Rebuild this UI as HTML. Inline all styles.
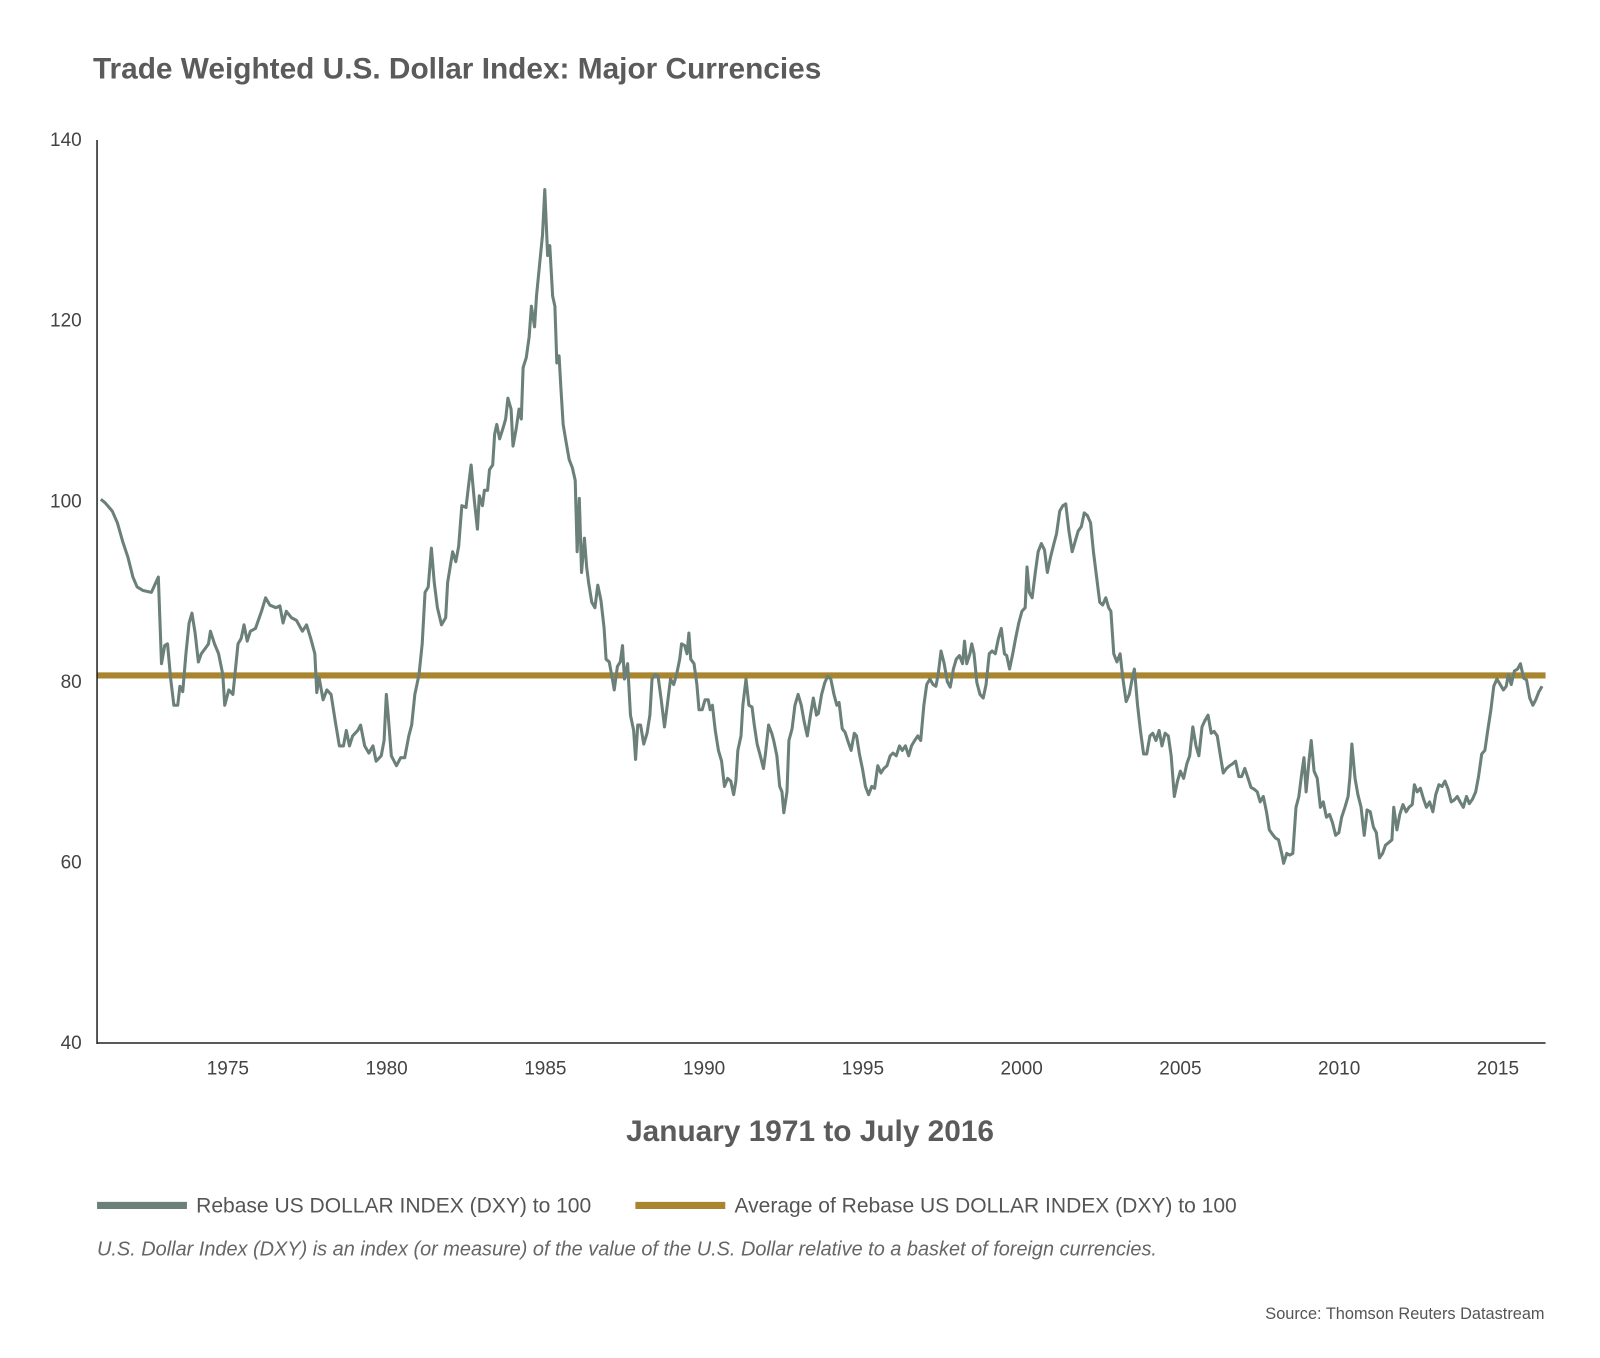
<!DOCTYPE html>
<html><head><meta charset="utf-8"><style>
body{margin:0;background:#fff;}
svg text{font-family:"Liberation Sans",Arial,sans-serif;}
</style></head><body>
<svg id="chart" width="1600" height="1353" viewBox="0 0 1566.3 1324.5" preserveAspectRatio="none" xmlns="http://www.w3.org/2000/svg">
<rect width="1600" height="1353" fill="#fff"/>
<text x="91" y="77" font-size="29.2" font-weight="bold" fill="#5b5b5b">Trade Weighted U.S. Dollar Index: Major Currencies</text>
<g id="yticks"></g>
<g id="xticks"></g>
<g id="plot"></g>
<line x1="95" y1="137" x2="95" y2="1022" stroke="#222" stroke-width="1.5"/>
<line x1="95" y1="1021" x2="1513" y2="1021" stroke="#222" stroke-width="1.5"/>
<text x="793" y="1117" font-size="29.2" font-weight="bold" fill="#5b5b5b" text-anchor="middle">January 1971 to July 2016</text>
<g>
<line x1="95" y1="1180" x2="183" y2="1180" stroke="#6b8079" stroke-width="7"/>
<text x="192" y="1187" font-size="20.6" fill="#555">Rebase US DOLLAR INDEX (DXY) to 100</text>
<line x1="622" y1="1180" x2="710" y2="1180" stroke="#a8852e" stroke-width="7"/>
<text x="719" y="1187" font-size="20.6" fill="#555">Average of Rebase US DOLLAR INDEX (DXY) to 100</text>
</g>
<text x="95" y="1229" font-size="19.5" font-style="italic" fill="#666">U.S. Dollar Index (DXY) is an index (or measure) of the value of the U.S. Dollar relative to a basket of foreign currencies.</text>
<text x="1512" y="1291" font-size="16" fill="#555" text-anchor="end">Source: Thomson Reuters Datastream</text>
</svg>
<script>
const yTickLabels=[40,60,80,100,120,140];
const xTickLabels=[1975,1980,1985,1990,1995,2000,2005,2010,2015];
const averageValue=80.7;
const dates=[1971.00,1971.14,1971.36,1971.52,1971.69,1971.85,1972.01,1972.14,1972.33,1972.59,1972.81,1972.91,1973.01,1973.10,1973.20,1973.30,1973.42,1973.49,1973.58,1973.68,1973.78,1973.87,1973.97,1974.07,1974.16,1974.29,1974.39,1974.45,1974.58,1974.71,1974.84,1974.90,1975.03,1975.16,1975.32,1975.42,1975.51,1975.61,1975.71,1975.87,1976.06,1976.19,1976.32,1976.51,1976.64,1976.74,1976.84,1977.00,1977.16,1977.35,1977.48,1977.61,1977.74,1977.80,1977.87,1978.00,1978.12,1978.25,1978.38,1978.51,1978.64,1978.73,1978.83,1978.93,1979.09,1979.18,1979.31,1979.44,1979.57,1979.67,1979.83,1979.92,1979.99,1980.05,1980.15,1980.31,1980.44,1980.57,1980.70,1980.79,1980.89,1981.02,1981.12,1981.21,1981.31,1981.41,1981.50,1981.60,1981.73,1981.86,1981.92,1982.08,1982.18,1982.27,1982.37,1982.50,1982.60,1982.66,1982.76,1982.86,1982.92,1983.02,1983.08,1983.18,1983.24,1983.34,1983.40,1983.47,1983.56,1983.66,1983.75,1983.82,1983.92,1983.98,1984.08,1984.17,1984.24,1984.30,1984.40,1984.49,1984.56,1984.66,1984.72,1984.82,1984.91,1984.98,1985.07,1985.14,1985.23,1985.30,1985.36,1985.43,1985.49,1985.56,1985.65,1985.75,1985.85,1985.94,1986.00,1986.07,1986.14,1986.23,1986.30,1986.36,1986.46,1986.56,1986.65,1986.75,1986.85,1986.91,1987.01,1987.11,1987.17,1987.27,1987.36,1987.43,1987.49,1987.59,1987.68,1987.78,1987.84,1987.91,1988.00,1988.10,1988.20,1988.29,1988.36,1988.46,1988.55,1988.65,1988.75,1988.84,1988.94,1989.04,1989.13,1989.23,1989.29,1989.39,1989.46,1989.52,1989.58,1989.68,1989.77,1989.84,1989.94,1990.03,1990.13,1990.19,1990.26,1990.35,1990.45,1990.55,1990.64,1990.74,1990.84,1990.93,1991.00,1991.06,1991.16,1991.22,1991.32,1991.41,1991.51,1991.58,1991.67,1991.77,1991.87,1991.93,1992.03,1992.13,1992.19,1992.29,1992.38,1992.45,1992.51,1992.61,1992.67,1992.77,1992.86,1992.96,1993.06,1993.15,1993.25,1993.35,1993.44,1993.54,1993.60,1993.70,1993.80,1993.89,1993.99,1994.09,1994.18,1994.25,1994.35,1994.44,1994.54,1994.63,1994.73,1994.80,1994.89,1994.99,1995.08,1995.18,1995.28,1995.37,1995.47,1995.57,1995.66,1995.76,1995.86,1995.95,1996.05,1996.15,1996.24,1996.34,1996.44,1996.53,1996.63,1996.73,1996.82,1996.92,1997.01,1997.11,1997.21,1997.30,1997.37,1997.46,1997.56,1997.66,1997.75,1997.85,1997.94,1998.04,1998.14,1998.20,1998.27,1998.37,1998.43,1998.50,1998.59,1998.69,1998.79,1998.88,1998.98,1999.07,1999.17,1999.27,1999.36,1999.46,1999.53,1999.62,1999.72,1999.81,1999.91,2000.01,2000.11,2000.17,2000.24,2000.33,2000.43,2000.52,2000.62,2000.72,2000.81,2000.91,2001.01,2001.10,2001.20,2001.30,2001.39,2001.49,2001.59,2001.68,2001.78,2001.88,2001.97,2002.07,2002.17,2002.26,2002.36,2002.46,2002.55,2002.65,2002.74,2002.81,2002.90,2003.00,2003.10,2003.19,2003.29,2003.39,2003.48,2003.55,2003.65,2003.74,2003.84,2003.94,2004.04,2004.13,2004.23,2004.33,2004.42,2004.52,2004.62,2004.71,2004.81,2004.91,2005.00,2005.10,2005.20,2005.29,2005.39,2005.49,2005.58,2005.68,2005.77,2005.87,2005.97,2006.06,2006.16,2006.26,2006.35,2006.45,2006.55,2006.64,2006.74,2006.84,2006.93,2007.03,2007.13,2007.22,2007.32,2007.42,2007.51,2007.61,2007.71,2007.80,2007.90,2007.99,2008.09,2008.19,2008.25,2008.35,2008.44,2008.54,2008.64,2008.73,2008.83,2008.89,2008.96,2009.05,2009.12,2009.21,2009.31,2009.41,2009.50,2009.60,2009.70,2009.79,2009.89,2009.99,2010.08,2010.18,2010.28,2010.34,2010.40,2010.50,2010.59,2010.69,2010.79,2010.88,2010.98,2011.08,2011.17,2011.27,2011.37,2011.46,2011.56,2011.66,2011.72,2011.82,2011.91,2012.01,2012.11,2012.20,2012.30,2012.37,2012.46,2012.56,2012.66,2012.75,2012.85,2012.95,2013.04,2013.14,2013.24,2013.33,2013.43,2013.53,2013.62,2013.72,2013.81,2013.91,2014.01,2014.10,2014.20,2014.30,2014.39,2014.49,2014.59,2014.68,2014.78,2014.87,2014.97,2015.07,2015.17,2015.26,2015.33,2015.42,2015.52,2015.62,2015.71,2015.81,2015.90,2016.00,2016.10,2016.19,2016.29,2016.39];
const indexValues=[100.2,99.8,98.9,97.6,95.5,93.8,91.6,90.5,90.1,89.9,91.6,82.0,84.0,84.2,80.3,77.4,77.4,79.5,78.9,83.1,86.5,87.6,85.4,82.2,83.1,83.7,84.2,85.6,84.2,83.1,80.8,77.4,79.1,78.6,84.2,84.8,86.3,84.5,85.6,85.9,87.8,89.3,88.5,88.2,88.4,86.5,87.8,87.1,86.8,85.6,86.3,84.8,83.1,78.8,80.5,78.0,79.1,78.6,75.7,72.9,72.9,74.6,72.9,74.0,74.6,75.2,72.9,72.1,72.9,71.2,71.8,73.5,78.6,76.3,71.8,70.7,71.6,71.6,74.0,75.2,78.6,80.8,84.2,89.9,90.5,94.8,91.0,88.2,86.3,87.1,91.0,94.4,93.3,95.0,99.5,99.3,102.3,104.0,100.1,96.9,100.6,99.5,101.2,101.2,103.5,104.0,107.4,108.5,106.9,108.0,109.1,111.4,110.2,106.1,108.0,110.2,109.1,114.8,115.9,118.2,121.6,119.3,122.7,126.3,129.5,134.5,127.2,128.3,122.7,121.6,115.3,116.1,112.5,108.5,106.6,104.6,103.7,102.3,94.4,100.3,92.1,95.9,92.7,91.0,88.8,88.2,90.7,89.0,85.9,82.5,82.2,80.3,79.1,81.7,82.2,84.0,80.3,82.0,76.3,74.6,71.4,75.2,75.2,73.1,74.3,76.3,80.3,80.8,80.6,78.0,75.0,77.4,80.3,79.7,80.8,82.5,84.2,84.0,83.1,85.4,82.5,82.0,79.7,76.9,76.9,78.0,78.0,76.9,77.4,74.6,72.4,71.2,68.4,69.3,69.0,67.5,69.0,72.4,74.0,77.4,80.3,77.4,77.2,75.2,73.1,71.8,70.4,72.0,75.2,74.3,73.5,71.8,68.4,67.8,65.5,67.8,73.5,74.8,77.4,78.6,77.4,75.6,74.0,76.3,78.2,76.3,76.5,78.6,79.9,80.6,80.3,78.6,77.4,77.7,74.8,74.4,73.3,72.4,74.3,74.0,72.0,70.3,68.4,67.5,68.4,68.2,70.7,69.9,70.4,70.7,71.8,72.1,71.8,72.9,72.4,72.9,71.8,72.9,73.5,74.0,73.5,77.4,79.7,80.3,79.7,79.5,80.8,83.4,82.0,80.0,79.4,81.4,82.5,82.9,82.0,84.5,82.0,83.1,84.2,83.1,79.9,78.6,78.2,79.7,83.1,83.4,83.1,84.8,85.9,83.1,82.9,81.4,83.1,84.8,86.5,87.8,88.2,92.7,89.9,89.3,92.1,94.4,95.3,94.6,92.1,93.8,95.2,96.4,98.9,99.5,99.7,96.7,94.4,95.5,96.7,97.2,98.7,98.4,97.6,94.4,91.6,88.8,88.5,89.3,88.2,87.8,83.1,82.2,83.1,80.3,77.8,78.6,80.3,81.4,77.4,74.6,72.0,72.0,74.0,74.3,73.5,74.6,72.9,74.3,74.0,71.8,67.3,69.0,70.1,69.3,70.9,71.8,75.0,72.9,71.8,75.0,75.7,76.3,74.3,74.5,74.0,71.8,69.9,70.4,70.7,70.9,71.2,69.5,69.5,70.4,69.3,68.3,68.1,67.8,66.7,67.3,65.6,63.6,63.1,62.7,62.5,61.0,59.9,61.0,60.8,61.0,66.1,67.3,70.1,71.6,67.8,71.2,73.5,70.1,69.3,66.1,66.7,65.0,65.3,64.4,63.0,63.3,65.0,66.1,67.3,69.5,73.1,69.3,67.5,66.1,63.0,65.8,65.6,63.9,63.3,60.5,61.0,61.9,62.2,62.5,66.1,63.6,65.3,66.4,65.6,66.1,66.4,68.6,67.8,68.2,67.0,66.1,66.7,65.6,67.5,68.6,68.4,69.0,68.1,66.7,66.9,67.3,66.7,66.1,67.3,66.5,67.0,67.8,69.5,72.0,72.4,74.6,76.9,79.5,80.3,79.7,79.1,79.5,80.8,79.7,81.2,81.4,82.0,80.4,80.2,78.2,77.4,78.0,78.9,79.5];

const NS='http://www.w3.org/2000/svg';
const X0=95,X1=1513,Y0=1021,Y1=137;
const xStart=1970.88,xEnd=2016.5,vMin=40,vMax=140;
function xScale(d){return X0+(d-xStart)/(xEnd-xStart)*(X1-X0);}
function yScale(v){return Y0-(v-vMin)/(vMax-vMin)*(Y0-Y1);}
function mk(tag,attrs,parent){const e=document.createElementNS(NS,tag);for(const k in attrs)e.setAttribute(k,attrs[k]);parent.appendChild(e);return e;}
const yg=document.getElementById('yticks'),xg=document.getElementById('xticks'),pg=document.getElementById('plot');
yTickLabels.forEach(v=>{
  const t=mk('text',{x:80,y:yScale(v)+6,'font-size':18.6,fill:'#444','text-anchor':'end'},yg);
  
  
  t.textContent=v;
});
xTickLabels.forEach(v=>{
  const t=mk('text',{x:xScale(v),y:1052,'font-size':18.6,fill:'#444','text-anchor':'middle'},xg);
  
  
  t.textContent=v;
});
const avg=mk('line',{x1:X0,x2:X1,y1:yScale(averageValue),y2:yScale(averageValue),stroke:'#a8852e','stroke-width':6},pg);


let d='';
dates.forEach((dt,i)=>{d+=(i?'L':'M')+xScale(dt).toFixed(1)+','+yScale(indexValues[i]).toFixed(1);});
const p=mk('path',{d:d,fill:'none',stroke:'#6b8079','stroke-width':3,'stroke-linejoin':'round'},pg);


</script>
</body></html>
